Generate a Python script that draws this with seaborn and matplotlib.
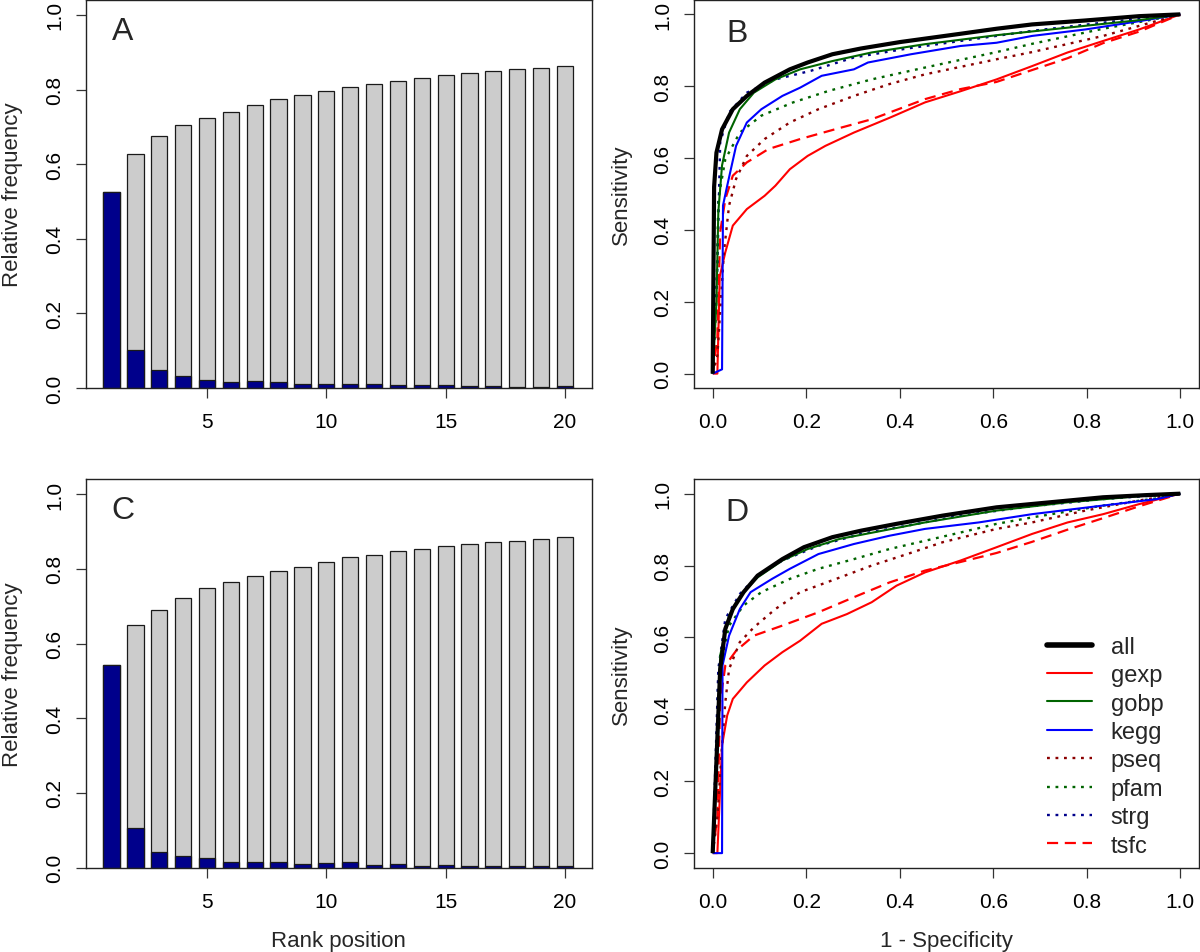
import matplotlib
matplotlib.use("Agg")
import matplotlib.pyplot as plt
from matplotlib.lines import Line2D
from matplotlib.ticker import FormatStrFormatter
import seaborn as sns
import pandas as pd

# ---------------- data ----------------
ranks = list(range(1, 21))
A_freq = [0.526, 0.102, 0.047, 0.031, 0.021, 0.016, 0.018, 0.017, 0.012, 0.010,
          0.012, 0.010, 0.008, 0.008, 0.009, 0.006, 0.006, 0.004, 0.004, 0.005]
A_cum = [0.526, 0.628, 0.675, 0.705, 0.725, 0.741, 0.759, 0.775, 0.786, 0.796,
         0.807, 0.816, 0.824, 0.831, 0.839, 0.845, 0.850, 0.854, 0.857, 0.862]
C_freq = [0.542, 0.105, 0.041, 0.032, 0.025, 0.016, 0.015, 0.015, 0.010, 0.013,
          0.014, 0.006, 0.009, 0.005, 0.007, 0.005, 0.005, 0.004, 0.005, 0.005]
C_cum = [0.542, 0.650, 0.691, 0.723, 0.748, 0.764, 0.780, 0.795, 0.805, 0.818,
         0.832, 0.838, 0.848, 0.853, 0.860, 0.866, 0.871, 0.875, 0.880, 0.885]

# Panel B ROC curves (1 - specificity, sensitivity)
B_all_x = [0, 0.003, 0.008, 0.02, 0.043, 0.073, 0.111, 0.165, 0.203, 0.256, 0.317, 0.401, 0.53, 0.607, 0.683, 0.797, 0.912, 1.0]
B_all_y = [0, 0.52, 0.615, 0.68, 0.736, 0.773, 0.81, 0.847, 0.866, 0.889, 0.905, 0.923, 0.946, 0.96, 0.972, 0.983, 0.995, 1.0]
B_gexp_x = [0, 0.01, 0.015, 0.027, 0.043, 0.073, 0.111, 0.134, 0.165, 0.203, 0.241, 0.302, 0.378, 0.454, 0.53, 0.607, 0.683, 0.759, 0.835, 0.912, 1.0]
B_gexp_y = [0, 0.0, 0.27, 0.338, 0.412, 0.458, 0.495, 0.523, 0.569, 0.606, 0.634, 0.671, 0.712, 0.755, 0.786, 0.819, 0.856, 0.894, 0.926, 0.958, 1.0]
B_gobp_x = [0, 0.008, 0.012, 0.02, 0.035, 0.058, 0.088, 0.134, 0.187, 0.256, 0.34, 0.454, 0.607, 0.759, 0.912, 1.0]
B_gobp_y = [0, 0.2, 0.45, 0.58, 0.671, 0.736, 0.782, 0.819, 0.847, 0.870, 0.894, 0.917, 0.942, 0.963, 0.984, 1.0]
B_kegg_x = [0, 0.02, 0.022, 0.031, 0.05, 0.073, 0.104, 0.149, 0.187, 0.233, 0.302, 0.332, 0.424, 0.53, 0.607, 0.683, 0.797, 0.912, 1.0]
B_kegg_y = [0, 0.012, 0.468, 0.523, 0.634, 0.699, 0.736, 0.773, 0.796, 0.829, 0.847, 0.866, 0.889, 0.912, 0.921, 0.94, 0.958, 0.981, 1.0]
B_pseq_x = [0, 0.01, 0.024, 0.035, 0.05, 0.073, 0.111, 0.165, 0.226, 0.302, 0.378, 0.454, 0.607, 0.683, 0.835, 1.0]
B_pseq_y = [0, 0.05, 0.338, 0.468, 0.542, 0.606, 0.653, 0.699, 0.736, 0.773, 0.806, 0.833, 0.875, 0.895, 0.94, 1.0]
B_pfam_x = [0, 0.008, 0.012, 0.027, 0.058, 0.104, 0.172, 0.248, 0.34, 0.454, 0.607, 0.683, 0.835, 1.0]
B_pfam_y = [0, 0.2, 0.486, 0.597, 0.671, 0.718, 0.755, 0.787, 0.819, 0.852, 0.895, 0.918, 0.96, 1.0]
B_strg_x = [0, 0.01, 0.016, 0.035, 0.073, 0.134, 0.21, 0.302, 0.416, 0.53, 0.683, 0.835, 1.0]
B_strg_y = [0, 0.3, 0.644, 0.727, 0.782, 0.819, 0.843, 0.88, 0.905, 0.926, 0.954, 0.977, 1.0]
B_tsfc_x = [0, 0.01, 0.016, 0.027, 0.043, 0.073, 0.119, 0.187, 0.264, 0.34, 0.454, 0.53, 0.607, 0.683, 0.759, 0.835, 0.912, 1.0]
B_tsfc_y = [0, 0.1, 0.394, 0.486, 0.551, 0.588, 0.625, 0.653, 0.681, 0.708, 0.764, 0.792, 0.812, 0.845, 0.878, 0.92, 0.952, 1.0]

# Panel D ROC curves
D_all_x = [0, 0.016, 0.027, 0.043, 0.066, 0.096, 0.149, 0.195, 0.256, 0.317, 0.393, 0.492, 0.607, 0.721, 0.835, 0.927, 1.0]
D_all_y = [0, 0.512, 0.624, 0.679, 0.726, 0.772, 0.818, 0.851, 0.879, 0.897, 0.916, 0.939, 0.962, 0.976, 0.99, 0.996, 1.0]
D_gexp_x = [0, 0.01, 0.02, 0.031, 0.043, 0.073, 0.111, 0.149, 0.187, 0.233, 0.287, 0.34, 0.393, 0.454, 0.53, 0.607, 0.683, 0.759, 0.835, 0.912, 1.0]
D_gexp_y = [0, 0.0, 0.3, 0.383, 0.429, 0.475, 0.522, 0.559, 0.591, 0.638, 0.665, 0.698, 0.744, 0.781, 0.814, 0.851, 0.888, 0.92, 0.943, 0.971, 1.0]
D_gobp_x = [0, 0.01, 0.016, 0.035, 0.066, 0.096, 0.149, 0.203, 0.271, 0.363, 0.454, 0.607, 0.759, 0.912, 1.0]
D_gobp_y = [0, 0.3, 0.55, 0.661, 0.726, 0.767, 0.814, 0.846, 0.874, 0.897, 0.92, 0.953, 0.976, 0.993, 1.0]
D_kegg_x = [0, 0.02, 0.021, 0.035, 0.058, 0.081, 0.127, 0.165, 0.226, 0.302, 0.378, 0.454, 0.569, 0.683, 0.835, 0.95, 1.0]
D_kegg_y = [0, 0.0, 0.522, 0.605, 0.679, 0.726, 0.763, 0.791, 0.832, 0.86, 0.883, 0.902, 0.92, 0.943, 0.967, 0.985, 1.0]
D_pseq_x = [0, 0.01, 0.02, 0.027, 0.035, 0.058, 0.088, 0.134, 0.187, 0.264, 0.34, 0.416, 0.492, 0.607, 0.683, 0.797, 0.912, 1.0]
D_pseq_y = [0, 0.1, 0.3, 0.42, 0.512, 0.587, 0.628, 0.679, 0.726, 0.763, 0.8, 0.832, 0.865, 0.902, 0.92, 0.953, 0.981, 1.0]
D_pfam_x = [0, 0.008, 0.012, 0.035, 0.066, 0.104, 0.165, 0.226, 0.302, 0.378, 0.454, 0.53, 0.607, 0.683, 0.835, 0.95, 1.0]
D_pfam_y = [0, 0.25, 0.494, 0.633, 0.689, 0.726, 0.763, 0.791, 0.818, 0.846, 0.869, 0.892, 0.916, 0.934, 0.967, 0.987, 1.0]
D_strg_x = [0, 0.012, 0.027, 0.058, 0.096, 0.149, 0.226, 0.317, 0.416, 0.53, 0.683, 0.835, 1.0]
D_strg_y = [0, 0.512, 0.652, 0.721, 0.772, 0.814, 0.855, 0.888, 0.911, 0.939, 0.965, 0.985, 1.0]
D_tsfc_x = [0, 0.01, 0.016, 0.027, 0.05, 0.088, 0.149, 0.226, 0.302, 0.378, 0.454, 0.53, 0.607, 0.683, 0.759, 0.835, 0.912, 1.0]
D_tsfc_y = [0, 0.1, 0.42, 0.522, 0.563, 0.605, 0.633, 0.67, 0.712, 0.753, 0.786, 0.81, 0.835, 0.866, 0.9, 0.932, 0.965, 1.0]

series_names = ["all", "gexp", "gobp", "kegg", "pseq", "pfam", "strg", "tsfc"]
series_colors = ["#000000", "#FF0000", "#006400", "#0000FF", "#8B0000", "#006400", "#00008B", "#FF0000"]

# ---------------- style ----------------
sns.set_style("ticks")
plt.rcParams["font.family"] = ["Liberation Sans", "DejaVu Sans"]
plt.rcParams["axes.edgecolor"] = "#222222"
plt.rcParams["axes.linewidth"] = 1.0

W, H = 1200, 953
fig = plt.figure(figsize=(W / 100, H / 100), dpi=100)

def px_axes(left, top, right, bottom):
    return fig.add_axes([left / W, 1 - bottom / H, (right - left) / W, (bottom - top) / H])

axA = px_axes(86, 1, 591.7, 389)
axB = px_axes(694, 1, 1199, 389)
axC = px_axes(86, 480.3, 591.7, 868.5)
axD = px_axes(694, 480.3, 1199, 868.5)

TICK_FS = 15
LAB_FS = 16

def style_axes(ax):
    ax.tick_params(axis="both", direction="out", length=7.5, width=0.9, color="#333333",
                   labelsize=TICK_FS, labelcolor="black")
    ax.tick_params(axis="x", pad=10)
    ax.tick_params(axis="y", pad=8)
    for lab in ax.get_yticklabels():
        lab.set_rotation(90)
        lab.set_va("center")
    for s in ax.spines.values():
        s.set_visible(True)
        s.set_color("#222222")
        s.set_linewidth(1.0)

def bar_panel(ax, freq, cum, letter, show_xlabel):
    df = pd.DataFrame({"rank": ranks, "cum": cum, "freq": freq})
    sns.barplot(data=df, x="rank", y="cum", native_scale=True, width=0.68,
                color="#CCCCCC", saturation=1, edgecolor="#1a1a1a", linewidth=0.9, ax=ax)
    sns.barplot(data=df, x="rank", y="freq", native_scale=True, width=0.68,
                color="#00008B", saturation=1, edgecolor="#1a1a1a", linewidth=0.9, ax=ax)
    ax.set_xlim(-0.07, 21.12)
    ax.set_ylim(0, 1.04)
    ax.set_xticks([5, 10, 15, 20])
    ax.set_xticklabels(["5", "10", "15", "20"])
    ax.set_yticks([0, 0.2, 0.4, 0.6, 0.8, 1.0])
    ax.yaxis.set_major_formatter(FormatStrFormatter("%.1f"))
    ax.set_ylabel("Relative frequency", fontsize=LAB_FS)
    ax.yaxis.label.set_va("center")
    ax.yaxis.set_label_coords(-73 / 505.7, 0.5)
    if show_xlabel:
        ax.set_xlabel("Rank position", fontsize=LAB_FS)
        ax.xaxis.label.set_va("center")
        ax.xaxis.set_label_coords(0.5, -73 / 388.2)
    else:
        ax.set_xlabel("")
    style_axes(ax)
    ax.text(0.073, 0.92, letter, transform=ax.transAxes, fontsize=23,
            ha="center", va="center")

STYLES = {
    "all": dict(lw=3.0, dashes=None),
    "gexp": dict(lw=1.5, dashes=None),
    "gobp": dict(lw=1.5, dashes=None),
    "kegg": dict(lw=1.5, dashes=None),
    "pseq": dict(lw=1.7, dashes=(1.2, 2.4)),
    "pfam": dict(lw=1.7, dashes=(1.2, 2.4)),
    "strg": dict(lw=1.7, dashes=(1.2, 2.4)),
    "tsfc": dict(lw=1.6, dashes=(5.0, 3.0)),
}

def roc_panel(ax, curves, letter, show_xlabel):
    order = ["gexp", "tsfc", "pseq", "pfam", "kegg", "strg", "gobp", "all"]
    for name in order:
        xs, ys = curves[name]
        col = series_colors[series_names.index(name)]
        st = STYLES[name]
        n_before = len(ax.lines)
        sns.lineplot(x=xs, y=ys, color=col, linewidth=st["lw"], estimator=None,
                     sort=False, errorbar=None, ax=ax)
        line = ax.lines[n_before]
        if st["dashes"] is not None:
            line.set_dashes(st["dashes"])
        line.set_solid_capstyle("butt")
    ax.set_xlim(-0.04, 1.04)
    ax.set_ylim(-0.04, 1.04)
    ticks = [0, 0.2, 0.4, 0.6, 0.8, 1.0]
    ax.set_xticks(ticks)
    ax.set_yticks(ticks)
    ax.xaxis.set_major_formatter(FormatStrFormatter("%.1f"))
    ax.yaxis.set_major_formatter(FormatStrFormatter("%.1f"))
    ax.set_ylabel("Sensitivity", fontsize=LAB_FS)
    ax.yaxis.label.set_va("center")
    ax.yaxis.set_label_coords(-73 / 505, 0.5)
    if show_xlabel:
        ax.set_xlabel("1 - Specificity", fontsize=LAB_FS)
        ax.xaxis.label.set_va("center")
        ax.xaxis.set_label_coords(0.5, -73 / 388.2)
    else:
        ax.set_xlabel("")
    style_axes(ax)
    ax.text(0.085, 0.915, letter, transform=ax.transAxes, fontsize=23,
            ha="center", va="center")

bar_panel(axA, A_freq, A_cum, "A", False)
bar_panel(axC, C_freq, C_cum, "C", True)

B_curves = {"all": (B_all_x, B_all_y), "gexp": (B_gexp_x, B_gexp_y), "gobp": (B_gobp_x, B_gobp_y),
            "kegg": (B_kegg_x, B_kegg_y), "pseq": (B_pseq_x, B_pseq_y), "pfam": (B_pfam_x, B_pfam_y),
            "strg": (B_strg_x, B_strg_y), "tsfc": (B_tsfc_x, B_tsfc_y)}
D_curves = {"all": (D_all_x, D_all_y), "gexp": (D_gexp_x, D_gexp_y), "gobp": (D_gobp_x, D_gobp_y),
            "kegg": (D_kegg_x, D_kegg_y), "pseq": (D_pseq_x, D_pseq_y), "pfam": (D_pfam_x, D_pfam_y),
            "strg": (D_strg_x, D_strg_y), "tsfc": (D_tsfc_x, D_tsfc_y)}

roc_panel(axB, B_curves, "B", False)
roc_panel(axD, D_curves, "D", True)

# legend in panel D
handles = []
for name, col in zip(series_names, series_colors):
    st = STYLES[name]
    h = Line2D([], [], color=col, linewidth=(4.0 if name == "all" else st["lw"]))
    if st["dashes"] is not None:
        h.set_dashes(st["dashes"])
    handles.append(h)
leg = axD.legend(handles, series_names, loc="upper left",
                 bbox_to_anchor=(1047 / W, 1 - 637 / H), bbox_transform=fig.transFigure,
                 frameon=False, fontsize=17, handlelength=1.9, handletextpad=0.8,
                 labelspacing=0.27, borderpad=0, borderaxespad=0)

fig.savefig("out.png", dpi=100)
